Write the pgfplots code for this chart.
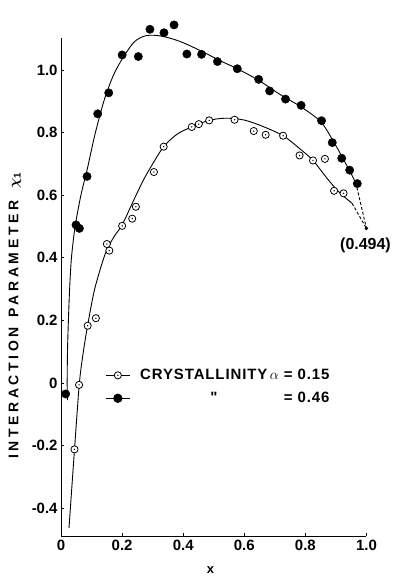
\documentclass[border=0pt]{standalone}
\usepackage{pgfplots}
\pgfplotsset{compat=1.18}
\usepackage{bm}
\usepackage{fontspec}
\usepackage{calc}
\setmainfont{Liberation Sans}

% open circle with a small centre dot
\pgfdeclareplotmark{dotcirc}{%
  \pgfpathcircle{\pgfpointorigin}{\pgfplotmarksize}%
  \pgfsetfillcolor{white}\pgfusepathqfillstroke
  \pgfpathcircle{\pgfpointorigin}{0.75pt}%
  \pgfsetfillcolor{black}\pgfusepathqfill}

\newcommand{\lblfont}{\fontsize{15}{18}\selectfont\bfseries}
\newcommand{\legfont}{\fontsize{15}{18}\selectfont\bfseries\addfontfeature{LetterSpace=6}}

\begin{document}
\begin{tikzpicture}
\begin{axis}[
  scale only axis, width=305bp, height=497.7bp,
  xmin=0, xmax=1.0, ymin=-0.49, ymax=1.102,
  axis x line=bottom, axis y line=left,
  axis line style={-, line width=0.8pt},
  xtick={0,0.2,0.4,0.6,0.8,1.0},
  xticklabels={0,0.2,0.4,0.6,0.8,1.0},
  ytick={-0.4,-0.2,0,0.2,0.4,0.6,0.8,1.0},
  yticklabels={-0.4,-0.2,0,0.2,0.4,0.6,0.8,1.0},
  tick align=inside, major tick length=3bp,
  tick style={black, line width=0.8pt},
  tick label style={font=\lblfont},
  clip=false,
  legend image code/.code={\draw[mark repeat=2,mark phase=2,#1]
    plot coordinates {(0cm,0cm) (0.42cm,0cm) (0.84cm,0cm)};},
  legend style={at={(axis cs:0.135,0.057)}, anchor=north west,
    draw=none, fill=none, font=\legfont, row sep=7bp,
    /tikz/every odd column/.append style={column sep=8bp}},
  legend cell align=left,
]
\addlegendimage{black, line width=0.9pt, mark=dotcirc, mark size=3.6pt, mark options={line width=0.8pt}}
\addlegendentry{CRYSTALLINITY$\,\alpha$ = 0.15}
\addlegendimage{black, line width=0.9pt, mark=*, mark size=4.2pt}
\addlegendentry{\makebox[0pt][l]{\hspace{70bp}\textquotedbl}\makebox[\widthof{CRYSTALLINITY$\,\alpha$ = 0.15}][r]{= 0.46}}

% fitted curve, alpha = 0.46
\addplot[black, line width=0.9pt, smooth, forget plot] coordinates {
  (0.021,-0.055) (0.020,0.0) (0.021,0.1) (0.024,0.2) (0.028,0.3)
  (0.034,0.4) (0.046,0.5) (0.065,0.6) (0.085,0.68) (0.11,0.79)
  (0.14,0.9) (0.17,0.98) (0.2,1.035) (0.24,1.09) (0.28,1.11)
  (0.33,1.108) (0.39,1.091) (0.46,1.06) (0.52,1.03) (0.577,1.004)
  (0.647,0.967) (0.72,0.92) (0.786,0.882) (0.85,0.835) (0.89,0.775)
  (0.93,0.705) (0.965,0.64)};
\addplot[black, line width=0.9pt, dash pattern=on 3pt off 2pt, forget plot]
  coordinates {(0.965,0.64) (1.0,0.494)};

% fitted curve, alpha = 0.15
\addplot[black, line width=0.9pt, smooth, forget plot] coordinates {
  (0.026,-0.463) (0.044,-0.212) (0.060,0.0) (0.073,0.1) (0.088,0.19)
  (0.11,0.3) (0.14,0.4) (0.155,0.435) (0.175,0.47) (0.2,0.505)
  (0.235,0.578) (0.27,0.649) (0.3,0.7) (0.336,0.755) (0.38,0.795)
  (0.428,0.818) (0.485,0.839) (0.54,0.846) (0.6,0.84) (0.66,0.82)
  (0.727,0.79) (0.78,0.75) (0.825,0.711) (0.87,0.655) (0.91,0.61)
  (0.953,0.574)};
\addplot[black, line width=0.9pt, dash pattern=on 3pt off 2pt, forget plot]
  coordinates {(0.953,0.574) (1.0,0.494)};

% extrapolated end point
\addplot[only marks, mark=*, mark size=1.6pt, black, forget plot]
  coordinates {(1.0,0.494)};

% measured points, alpha = 0.46
\addplot[only marks, mark=*, mark size=4.2pt, black, forget plot] coordinates {
  (0.015,-0.035) (0.049,0.505) (0.06,0.494) (0.085,0.66) (0.12,0.86)
  (0.156,0.927) (0.2,1.048) (0.253,1.043) (0.291,1.13) (0.337,1.119)
  (0.37,1.144) (0.412,1.051) (0.46,1.05) (0.512,1.027) (0.577,1.004)
  (0.647,0.97) (0.683,0.933) (0.735,0.907) (0.786,0.887) (0.853,0.838)
  (0.888,0.768) (0.919,0.718) (0.945,0.68) (0.97,0.637)};

% measured points, alpha = 0.15
\addplot[only marks, mark=dotcirc, mark size=3.6pt, black,
  mark options={line width=0.8pt}, forget plot] coordinates {
  (0.044,-0.212) (0.059,-0.006) (0.087,0.183) (0.114,0.207) (0.15,0.444)
  (0.158,0.423) (0.2,0.502) (0.233,0.525) (0.245,0.563) (0.304,0.674)
  (0.336,0.755) (0.428,0.818) (0.451,0.827) (0.485,0.839) (0.568,0.841)
  (0.631,0.805) (0.67,0.793) (0.727,0.79) (0.781,0.727) (0.825,0.711)
  (0.864,0.716) (0.894,0.614) (0.925,0.606)};

\node[font=\fontsize{16}{19}\selectfont\bfseries] at (axis cs:0.997,0.441) {(0.494)};
\node[font=\bfseries\fontsize{13}{15}\selectfont] at (axis cs:0.489,-0.597) {x};
\node[rotate=90, font=\fontsize{14}{17}\selectfont\bfseries]
  at (axis cs:-0.151,0.215)
  {\addfontfeature{LetterSpace=26}INTERACTION\hspace{10bp}PARAMETER\hspace{12bp}$\bm{\chi}_{\mathbf{1}}$};

\coordinate (bbsw) at (axis cs:-0.2,-0.6198);
\coordinate (bbne) at (axis cs:1.0951,1.2236);
\end{axis}
\pgfresetboundingbox
\path (bbsw) rectangle (bbne);
\end{tikzpicture}
\end{document}
